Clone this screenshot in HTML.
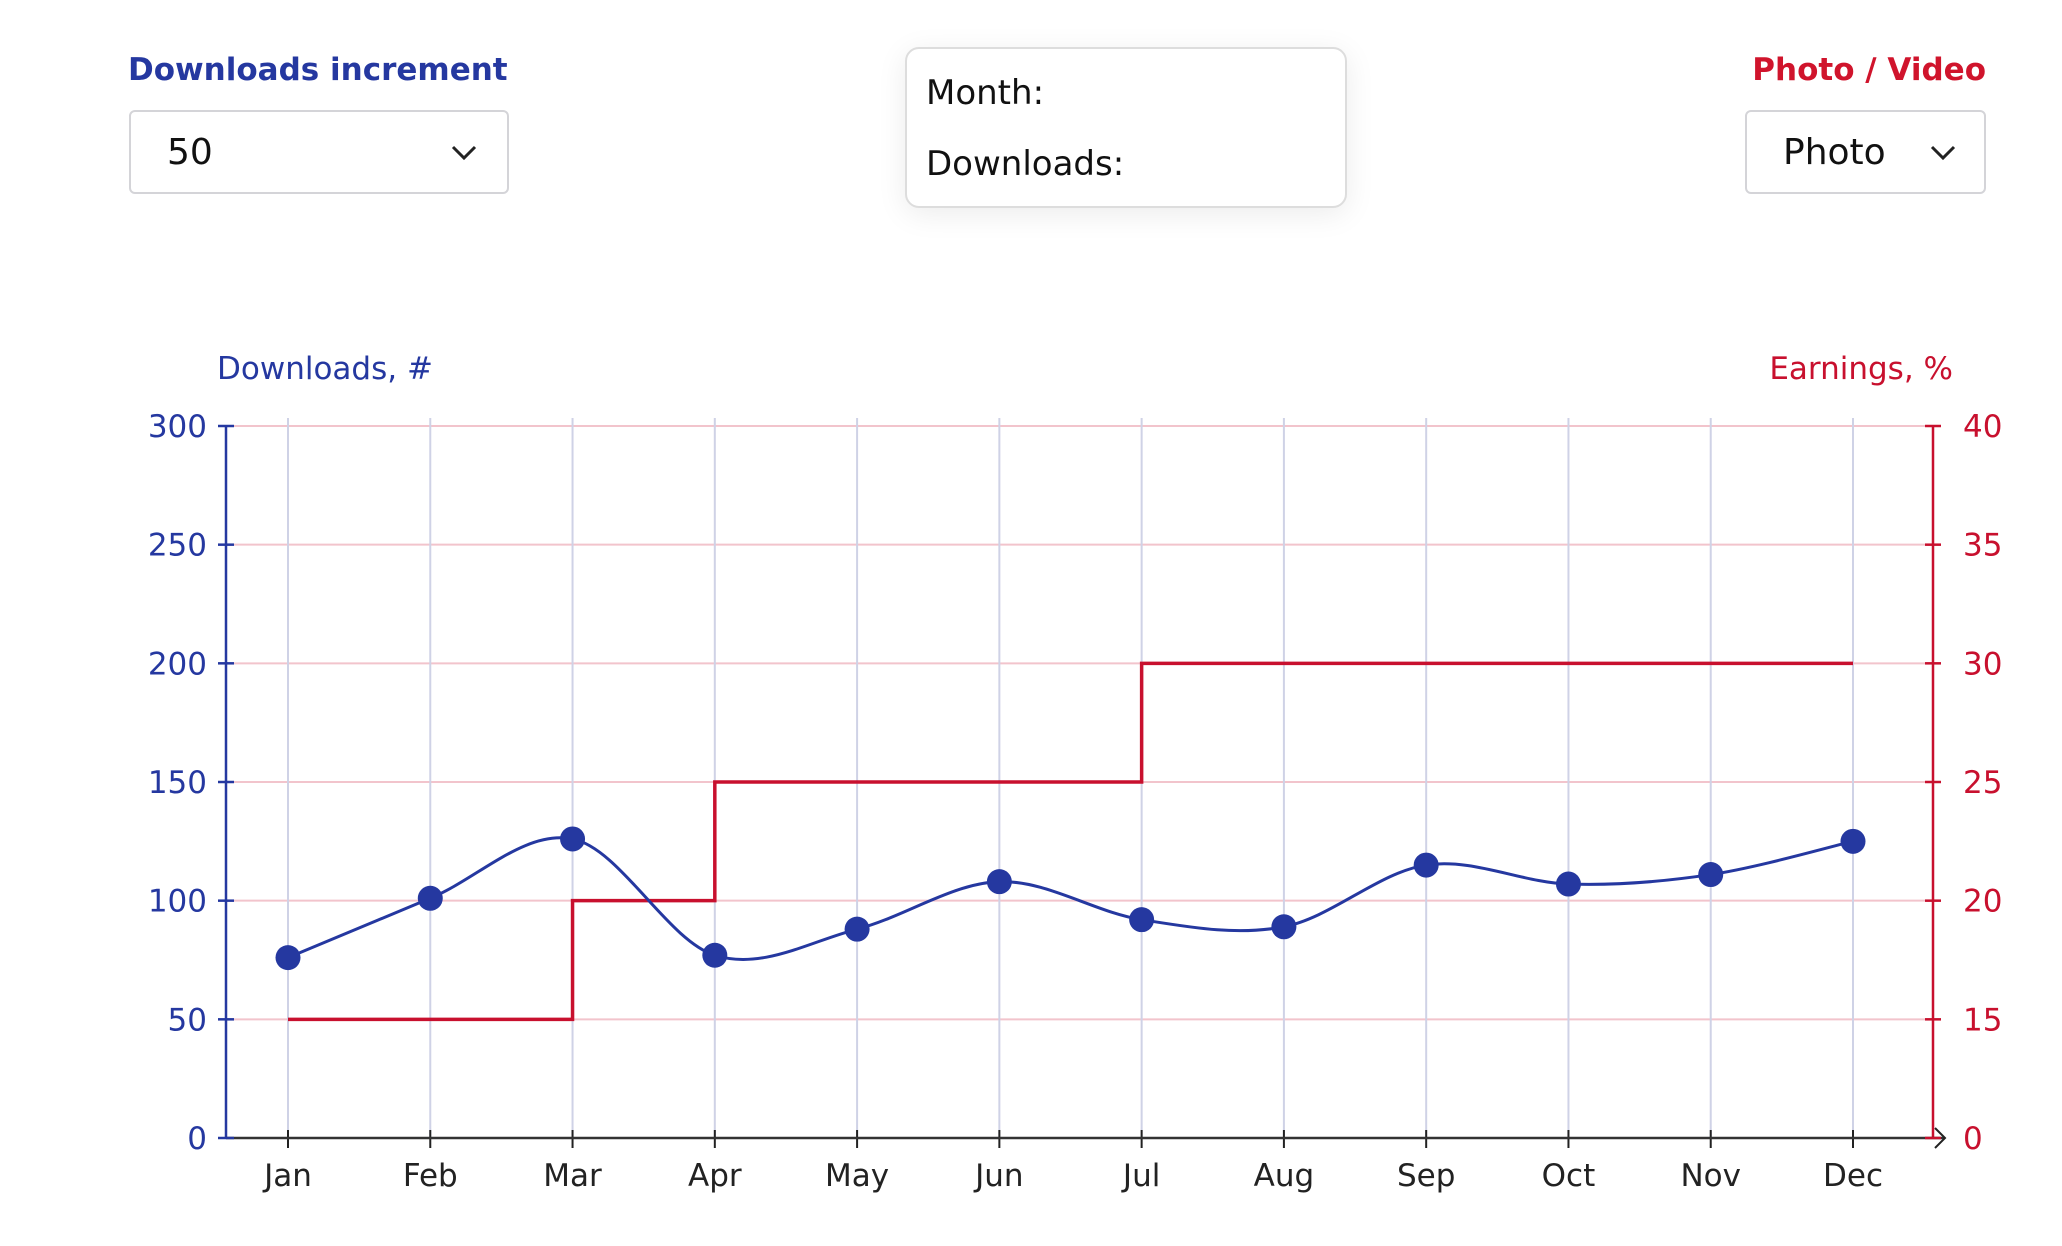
<!DOCTYPE html>
<html><head><meta charset="utf-8"><style>
body{margin:0;width:2062px;height:1246px;background:#fff;font-family:"DejaVu Sans","Liberation Sans",sans-serif;overflow:hidden;position:relative}
.lbl{position:absolute;font-weight:bold;font-size:31px}
.sel{position:absolute;border:2px solid #d4d4d8;border-radius:6px;background:#fff;box-sizing:border-box;font-size:36px;color:#111}
.tip{position:absolute;left:905px;top:47px;width:442px;height:161px;border:2px solid #ddd;border-radius:14px;box-shadow:0 6px 30px rgba(0,0,0,0.08);box-sizing:border-box;font-size:34px;color:#111;background:#fff}
</style></head><body>
<div class="lbl" style="left:128px;top:52px;color:#2538a0">Downloads increment</div>
<div class="sel" style="left:129px;top:110px;width:380px;height:84px">
<span style="position:absolute;left:36px;top:20px">50</span>
<svg style="position:absolute;left:320px;top:32px" width="26" height="18"><polyline points="2,3 13,14 24,3" fill="none" stroke="#222" stroke-width="3"/></svg></div>
<div class="tip">
<div style="position:absolute;left:19px;top:24px">Month:</div>
<div style="position:absolute;left:19px;top:95px">Downloads:</div></div>
<div class="lbl" style="right:76px;top:52px;color:#d0142c">Photo / Video</div>
<div class="sel" style="left:1745px;top:110px;width:241px;height:84px">
<span style="position:absolute;left:36px;top:20px">Photo</span>
<svg style="position:absolute;left:183px;top:32px" width="26" height="18"><polyline points="2,3 13,14 24,3" fill="none" stroke="#222" stroke-width="3"/></svg></div>
<svg id="c" width="2062" height="1246" style="position:absolute;left:0;top:0"></svg>
<script>
const months=["Jan","Feb","Mar","Apr","May","Jun","Jul","Aug","Sep","Oct","Nov","Dec"];
const downloads=[76,101,126,77,88,108,92,89,115,107,111,125];
const earnings=[15,15,20,25,25,25,30,30,30,30,30,30];
const leftTicks=[0,50,100,150,200,250,300];
const rightTicks=[0,15,20,25,30,35,40];
const svg=document.getElementById('c');const NS='http://www.w3.org/2000/svg';
const x0=288,x1=1853,yB=1138,yT=426,axL=226,axR=1933;
const X=i=>x0+(x1-x0)*i/(months.length-1);
const YL=v=>yB-(yB-yT)*v/300;
const YR=v=>v<=10?yB:YL((v-10)*10);
function el(t,a,txt){const e=document.createElementNS(NS,t);for(const k in a)e.setAttribute(k,a[k]);if(txt!==undefined)e.textContent=txt;svg.appendChild(e);return e;}
const blue='#2538a0',red='#c8102e';
[50,100,150,200,250,300].forEach(v=>{const g=el('line',{x1:axL,x2:axR,y1:YL(v),y2:YL(v),stroke:'#f2c4cc','stroke-width':2});

});
months.forEach((m,i)=>{const g=el('line',{x1:X(i),x2:X(i),y1:yT-8,y2:yB,stroke:'#cfd2e6','stroke-width':2});


const t=el('line',{x1:X(i),x2:X(i),y1:yB-8,y2:yB+10,stroke:'#222','stroke-width':2});


const l=el('text',{x:X(i),y:1186,'text-anchor':'middle','font-size':31,fill:'#222'},m);

});
let a=el('line',{x1:axL,x2:axL,y1:yT,y2:yB,stroke:blue,'stroke-width':2.5});
a=el('line',{x1:axR,x2:axR,y1:yT,y2:yB,stroke:red,'stroke-width':2.5});
a=el('line',{x1:axL,x2:axR+12,y1:yB,y2:yB,stroke:'#333','stroke-width':2.5});
a=el('polyline',{points:`${axR+2},${yB-10} ${axR+12},${yB} ${axR+2},${yB+10}`,fill:'none',stroke:'#222','stroke-width':2});
leftTicks.forEach(v=>{const t=el('line',{x1:axL-8,x2:axL+8,y1:YL(v),y2:YL(v),stroke:blue,'stroke-width':2.5});


const l=el('text',{x:207,y:YL(v)+11,'text-anchor':'end','font-size':31,fill:blue},v);

});
rightTicks.forEach(v=>{const t=el('line',{x1:axR-8,x2:axR+8,y1:YR(v),y2:YR(v),stroke:red,'stroke-width':2.5});


const l=el('text',{x:1963,y:YR(v)+11,'font-size':31,fill:red},v);

});
a=el('text',{x:217,y:379,'font-size':31,fill:blue},'Downloads, #');
a=el('text',{x:1953,y:379,'font-size':31,fill:red,'text-anchor':'end'},'Earnings, %');
let d=`M${X(0)},${YR(earnings[0])}`;
for(let i=1;i<earnings.length;i++){d+=` H${X(i)} V${YR(earnings[i])}`;}
a=el('path',{d,fill:'none',stroke:red,'stroke-width':3.5});
const P=downloads.map((v,i)=>[X(i),YL(v)]);
let c=`M${P[0][0]},${P[0][1]}`;
for(let i=0;i<P.length-1;i++){const p0=P[Math.max(0,i-1)],p1=P[i],p2=P[i+1],p3=P[Math.min(P.length-1,i+2)];const k=1/6;
c+=` C${p1[0]+(p2[0]-p0[0])*k},${p1[1]+(p2[1]-p0[1])*k} ${p2[0]-(p3[0]-p1[0])*k},${p2[1]-(p3[1]-p1[1])*k} ${p2[0]},${p2[1]}`;}
a=el('path',{d:c,fill:'none',stroke:blue,'stroke-width':3});
P.forEach(p=>{const e=el('circle',{cx:p[0],cy:p[1],r:12.5,fill:blue});

});
</script>
</body></html>
